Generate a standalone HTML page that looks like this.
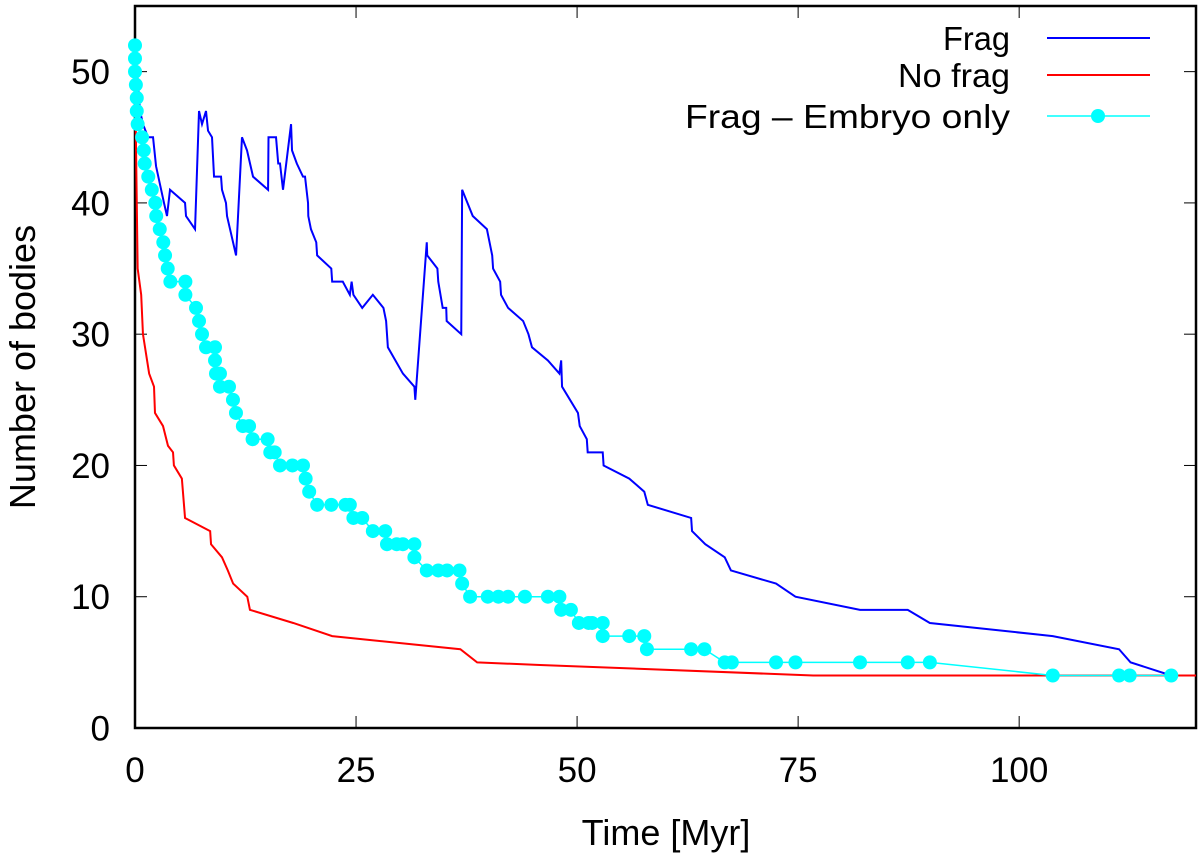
<!DOCTYPE html>
<html><head><meta charset="utf-8"><style>
html,body{margin:0;padding:0;background:#fff;}
svg{display:block;font-family:"Liberation Sans",sans-serif;}
</style></head><body>
<svg id="chart" width="1200" height="856" viewBox="0 0 1200 856" xmlns="http://www.w3.org/2000/svg">
<g id="grid"></g>
<g id="series"></g>
<g id="legend"></g>
</svg>
<script>
const xTicks=[0,25,50,75,100];
const yTicks=[0,10,20,30,40,50];
const fragT=[0,0.57,0.9,1.47,2.04,2.38,3.28,3.62,3.96,5.66,5.77,6.79,7.24,7.58,8.03,8.26,8.71,8.94,9.73,9.84,10.29,10.41,10.75,11.43,12.1,12.67,13.35,15.05,15.1,15.95,16.2,16.4,16.74,17.65,17.76,18.3,19.0,19.23,19.57,19.6,19.9,20.5,20.6,22.2,22.3,23.5,24.3,24.5,24.7,25.7,26.9,28.1,28.4,28.6,30.3,31.6,31.7,33.0,33.05,34.2,34.3,34.8,35.2,35.25,36.9,37.0,38.2,39.8,40.4,40.5,41.3,41.4,42.2,43.9,44.5,44.9,46.7,48.0,48.2,48.3,50.1,50.3,51.1,51.2,52.9,53.0,55.9,57.6,58.0,62.9,63.0,64.5,66.7,67.4,72.5,74.7,82.0,87.4,89.9,103.8,111.3,112.6,117.2];
const fragN=[52,47,46,45,45,42.8,40,39,41,40,39,38,47,46,47,45.5,45,42,42,41,40,39,38,36,45,44,42,41,45,45,43,43,41,46,44,43,42,42,40,39,38,37,36,35,34,34,33,34,33,32,33,32,31,29,27,26,25,37,36,35,34,32,32,31,30,41,39,38,36,35,34,33,32,31,30,29,28,27,28,26,24,23,22,21,21,20,19,18,17,16,15,14,13,12,11,10,9,9,8,7,6,5,4];
const noFragT=[0,0.1,0.3,0.7,0.9,1.6,2.15,2.26,3.17,3.73,4.3,4.4,5.3,5.66,8.5,8.6,9.84,10.5,11.1,12.7,13.0,17.9,22.3,36.8,38.7,45.8,76.7,120];
const noFragN=[52,45,35,33,30,27,26,24,23,21.5,21,20,19,16,15,14,13,12,11,10,9,8,7,6,5,4.8,4,4];
const embT=[0,0,0,0.1,0.2,0.2,0.3,0.8,1.0,1.1,1.5,1.9,2.3,2.4,2.8,3.2,3.4,3.7,4.0,5.7,5.7,6.9,7.24,7.58,8.03,9.05,9.05,9.16,9.61,9.61,10.63,11.08,11.42,12.2,12.9,13.3,15.0,15.3,15.8,16.4,17.8,19.0,19.3,19.7,20.6,22.2,23.8,24.3,24.7,25.7,26.9,28.3,28.5,29.6,30.3,31.6,31.6,33.0,34.3,35.3,36.7,37.0,37.9,39.9,41.1,42.2,44.1,46.7,48.0,48.2,49.3,50.2,51.3,51.7,52.9,52.9,55.9,57.6,57.9,62.9,64.4,66.7,67.5,72.5,74.7,82.0,87.4,89.9,103.8,111.3,112.5,117.2];
const embN=[52,51,50,49,48,47,46,45,44,43,42,41,40,39,38,37,36,35,34,34,33,32,31,30,29,29,28,27,27,26,26,25,24,23,23,22,22,21,21,20,20,20,19,18,17,17,17,17,16,16,15,15,14,14,14,14,13,12,12,12,12,11,10,10,10,10,10,10,10,9,9,8,8,8,8,7,7,7,6,6,6,5,5,5,5,5,5,5,4,4,4,4];

const L=135,R=1196,T=6,B=728,XMAX=120,YMAX=55;
const sx=v=>L+(R-L)*v/XMAX;
const sy=v=>B-(B-T)*v/YMAX;
const NS='http://www.w3.org/2000/svg';
function mk(tag,parent){const e=document.createElementNS(NS,tag);parent.appendChild(e);return e;}
const grid=document.getElementById('grid'),series=document.getElementById('series'),legend=document.getElementById('legend');

xTicks.forEach(v=>{
  const t=mk('line',grid);
  
  
  t.setAttribute('x1',sx(v));t.setAttribute('x2',sx(v));t.setAttribute('y1',B);t.setAttribute('y2',B-12);t.setAttribute('stroke','#000');t.setAttribute('stroke-width','1');
  const t2=mk('line',grid);
  
  
  t2.setAttribute('x1',sx(v));t2.setAttribute('x2',sx(v));t2.setAttribute('y1',T);t2.setAttribute('y2',T+12);t2.setAttribute('stroke','#000');t2.setAttribute('stroke-width','1');
  const l=mk('text',grid);
  
  
  l.setAttribute('x',sx(v));l.setAttribute('y',782);l.setAttribute('text-anchor','middle');l.setAttribute('font-size','35');
  l.textContent=v;
});
yTicks.forEach(v=>{
  const t=mk('line',grid);
  
  
  t.setAttribute('x1',L);t.setAttribute('x2',L+12);t.setAttribute('y1',sy(v));t.setAttribute('y2',sy(v));t.setAttribute('stroke','#000');t.setAttribute('stroke-width','1');
  const t2=mk('line',grid);
  
  
  t2.setAttribute('x1',R);t2.setAttribute('x2',R-12);t2.setAttribute('y1',sy(v));t2.setAttribute('y2',sy(v));t2.setAttribute('stroke','#000');t2.setAttribute('stroke-width','1');
  const l=mk('text',grid);
  
  
  l.setAttribute('x',110);l.setAttribute('y',sy(v)+12.5);l.setAttribute('text-anchor','end');l.setAttribute('font-size','35');
  l.textContent=v;
});
const frame=mk('rect',grid);


frame.setAttribute('x',L);frame.setAttribute('y',T);frame.setAttribute('width',R-L);frame.setAttribute('height',B-T);frame.setAttribute('fill','none');frame.setAttribute('stroke','#000');frame.setAttribute('stroke-width','2.5');
const xt=mk('text',grid);


xt.setAttribute('x',666);xt.setAttribute('y',845);xt.setAttribute('text-anchor','middle');xt.setAttribute('font-size','36');xt.textContent='Time [Myr]';
const yt=mk('text',grid);


yt.setAttribute('transform','translate(35,367) rotate(-90)');yt.setAttribute('text-anchor','middle');yt.setAttribute('font-size','36');yt.textContent='Number of bodies';

function poly(ts,ns,color,w,name){
  const p=mk('polyline',series);
  
  
  p.setAttribute('points',ts.map((t,i)=>sx(t)+','+sy(ns[i])).join(' '));
  p.setAttribute('fill','none');p.setAttribute('stroke',color);p.setAttribute('stroke-width',w);p.setAttribute('stroke-linejoin','miter');
}
poly(noFragT,noFragN,'#ff0000',2,'no-frag-line');
poly(fragT,fragN,'#0000ff',2,'frag-line');
poly(embT,embN,'#00ffff',1.5,'embryo-line');
embT.forEach((t,i)=>{
  const c=mk('circle',series);
  
  
  c.setAttribute('cx',sx(t));c.setAttribute('cy',sy(embN[i]));c.setAttribute('r',7);c.setAttribute('fill','#00ffff');
});

const items=[['Frag','#0000ff',38,false,67],['No frag','#ff0000',75,false,112],['Frag \u2013 Embryo only','#00ffff',116,true,325]];
items.forEach(it=>{
  const tx=mk('text',legend);
  
  
  tx.setAttribute('x',1010);tx.setAttribute('y',it[2]+12);tx.setAttribute('text-anchor','end');tx.setAttribute('font-size','33');
  tx.setAttribute('textLength',it[4]);tx.setAttribute('lengthAdjust','spacingAndGlyphs');
  tx.textContent=it[0];
  const ln=mk('line',legend);
  
  
  ln.setAttribute('x1',1047);ln.setAttribute('x2',1150);ln.setAttribute('y1',it[2]);ln.setAttribute('y2',it[2]);ln.setAttribute('stroke',it[1]);ln.setAttribute('stroke-width',it[3]?1.5:2);
  if(it[3]){
    const d=mk('circle',legend);
    
    
    d.setAttribute('cx',1098);d.setAttribute('cy',it[2]);d.setAttribute('r',7);d.setAttribute('fill',it[1]);
  }
});
</script>
</body></html>
